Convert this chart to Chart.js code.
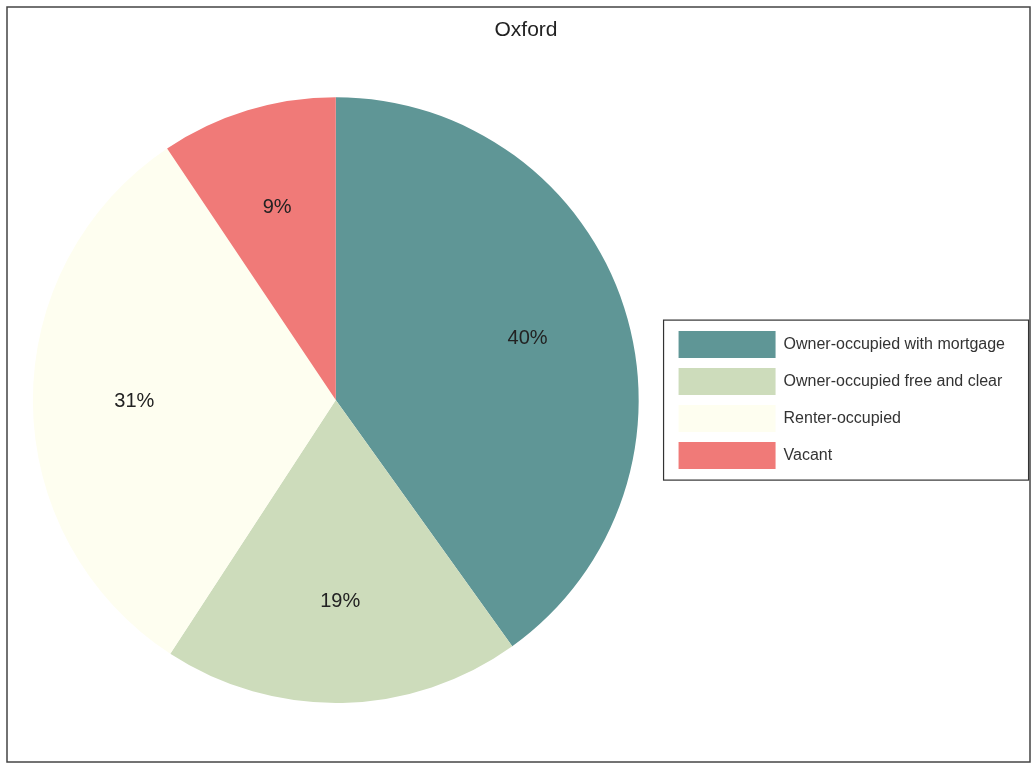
<!DOCTYPE html>
<html>
<head>
<meta charset="utf-8">
<script src="https://cdn.jsdelivr.net/npm/chart.js@4"></script>
<style>
  html, body { margin: 0; padding: 0; background: #fff; }
  #wrap { position: relative; width: 1034px; height: 764px; }
</style>
</head>
<body>
<div id="wrap"><canvas id="ch1" width="1034" height="764"></canvas></div>
<script>
// values (percent of housing units)
const categories = ['Owner-occupied with mortgage', 'Owner-occupied free and clear', 'Renter-occupied', 'Vacant'];
const shares = [40.1, 19.1, 31.4, 9.4];
const colors = ['#5f9696', '#cddcbb', '#fefef0', '#f07a78'];
const chartTitle = 'Oxford';

const FONT = '"Liberation Sans", Arial, sans-serif';

// outer frame + box round the legend; title centred on the whole frame
const framePlugin = {
  id: 'frames',
  afterLayout(chart) {
    chart.titleBlock.left = 20;
    chart.titleBlock.right = 1032;
  },
  afterDraw(chart) {
    const ctx = chart.ctx;
    ctx.save();
    ctx.strokeStyle = '#444';
    ctx.lineWidth = 1.5;
    ctx.strokeRect(7, 7, 1023, 755);
    const hb = chart.legend.legendHitBoxes;
    if (hb && hb.length) {
      let x0 = Infinity, y0 = Infinity;
      hb.forEach(b => { x0 = Math.min(x0, b.left); y0 = Math.min(y0, b.top); });
      ctx.lineWidth = 1.2;
      ctx.strokeStyle = '#333';
      ctx.strokeRect(x0 - 15, y0 - 11, 365, 160);
    }
    ctx.restore();
  }
};

// percentage labels inside the slices
const pctPlugin = {
  id: 'pct',
  afterDatasetsDraw(chart) {
    const ctx = chart.ctx;
    const meta = chart.getDatasetMeta(0);
    const total = shares.reduce((a, b) => a + b, 0);
    ctx.save();
    ctx.font = '20px ' + FONT;
    ctx.fillStyle = '#222';
    ctx.textAlign = 'center';
    ctx.textBaseline = 'middle';
    meta.data.forEach((arc, i) => {
      const p = arc.getProps(['x', 'y', 'startAngle', 'endAngle', 'outerRadius'], true);
      const mid = (p.startAngle + p.endAngle) / 2;
      const r = p.outerRadius * 0.665;
      ctx.fillText(Math.round(shares[i] / total * 100) + '%', p.x + Math.cos(mid) * r, p.y + Math.sin(mid) * r);
    });
    ctx.restore();
  }
};

const ctx = document.getElementById('ch1').getContext('2d');
const myPie = new Chart(ctx, {
  type: 'pie',
  data: {
    labels: categories,
    datasets: [{
      data: shares,
      backgroundColor: colors,
      borderWidth: 0
    }]
  },
  options: {
    responsive: false,
    animation: false,
    layout: { padding: { left: 3, right: 19, top: 0, bottom: 61 } },
    plugins: {
      title: {
        display: true,
        text: chartTitle,
        color: '#222',
        font: { family: FONT, size: 21, weight: 'normal', lineHeight: 1.2 },
        padding: { top: 18, bottom: 54 }
      },
      legend: {
        position: 'right',
        fullSize: false,
        labels: {
          boxWidth: 97,
          boxHeight: 27,
          padding: 10,
          color: '#333',
          font: { family: FONT, size: 16 }
        }
      },
      tooltip: { enabled: false }
    }
  },
  plugins: [pctPlugin, framePlugin]
});
</script>
</body>
</html>
